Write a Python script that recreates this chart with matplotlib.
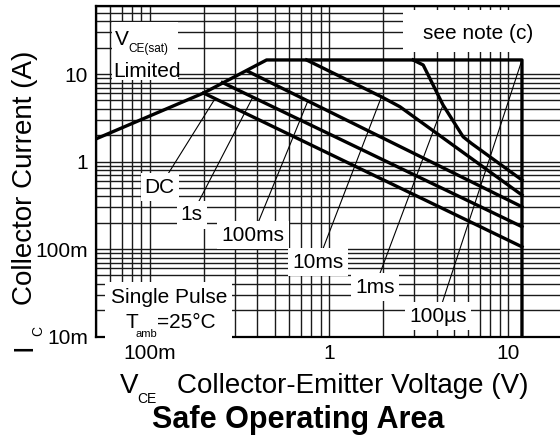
import numpy as np
import matplotlib
matplotlib.use("Agg")
import matplotlib.pyplot as plt
from matplotlib.patches import Rectangle
from matplotlib.ticker import LogLocator, NullFormatter

plt.rcParams["font.family"] = ["Liberation Sans", "DejaVu Sans"]

# curves (V, A)
soa_v = [0.05, 0.2, 0.45, 12, 12]          # 100us = whole envelope
soa_i = [1.81, 6.07, 14.5, 14.5, 0.01]
dc_v = [0.2, 12]
dc_i = [6.07, 0.106]
s1_v = [0.255, 12]
s1_i = [8.0, 0.18]
ms100_v = [0.352, 12]
ms100_i = [10.8, 0.304]
ms10_v = [0.752, 1.97, 2.5, 12]
ms10_i = [14.5, 5.5, 4.23, 0.414]
ms1_v = [2.96, 3.37, 4.35, 5.63, 6.27, 12]
ms1_i = [14.5, 12.7, 4.43, 1.92, 1.61, 0.615]

curve_names = ["DC", "1s", "100ms", "10ms", "1ms", "100\u00b5s"]
curve_v = [dc_v, s1_v, ms100_v, ms10_v, ms1_v, soa_v]
curve_i = [dc_i, s1_i, ms100_i, ms10_i, ms1_i, soa_i]
leader_v = [0.232, 0.377, 0.765, 1.97, 4.35, 12]

x_ticks = [0.1, 1, 10]
x_labels = ["100m", "1", "10"]
y_ticks = [0.01, 0.1, 1, 10]
y_labels = ["10m", "100m", "1", "10"]

# label placement (data coords)
label_pos = [(0.114, 0.51), (0.172, 0.245), (0.378, 0.1445),
             (0.87, 0.071), (1.81, 0.0368), (4.07, 0.01714)]

W, H = 560, 441


def fx(x):
    return x / W


def fy(y):
    return 1 - y / H


def on_curve(vs, cs, v):
    lv, lc = np.log10(vs), np.log10(cs)
    keep = np.r_[True, np.diff(lv) > 0]
    return 10 ** np.interp(np.log10(v), lv[keep], lc[keep])


fig = plt.figure(figsize=(W / 100, H / 100), dpi=100)
ax = fig.add_axes([fx(95.7), fy(336.5), (561.7 - 95.7) / W, (336.5 - 6) / H])
ax.set_xscale("log")
ax.set_yscale("log")
ax.set_xlim(0.05, 20)
ax.set_ylim(0.01, 60)

ax.set_xticks(x_ticks)
ax.set_xticklabels(x_labels)
ax.set_yticks(y_ticks)
ax.set_yticklabels(y_labels)
ax.xaxis.set_minor_locator(LogLocator(base=10, subs=np.arange(2, 10), numticks=50))
ax.yaxis.set_minor_locator(LogLocator(base=10, subs=np.arange(2, 10), numticks=50))
ax.xaxis.set_minor_formatter(NullFormatter())
ax.yaxis.set_minor_formatter(NullFormatter())
ax.tick_params(which="both", length=0, labelsize=15, pad=5.5)
ax.grid(True, which="both", color="#1a1a1a", lw=1.0)
ax.set_axisbelow(True)
for side in ["top", "left", "bottom"]:
    ax.spines[side].set_linewidth(1.6)
ax.spines["right"].set_visible(False)

for vs, cs in zip(curve_v, curve_i):
    ax.plot(vs, cs, color="black", lw=2.4, solid_joinstyle="round", zorder=3)

for name, vs, cs, lv, pos in zip(curve_names, curve_v, curve_i, leader_v, label_pos):
    ax.annotate(name, xy=(lv, on_curve(vs, cs, lv)), xytext=pos,
                ha="center", va="center", fontsize=15, zorder=4,
                bbox=dict(boxstyle="square,pad=0.2", fc="white", ec="none"),
                arrowprops=dict(arrowstyle="-", lw=0.8, color="black",
                                shrinkA=0, shrinkB=0))

# white note boxes
for x0, y0, x1, y1 in [(112, 22, 178, 80), (403, 10, 562, 52), (105, 282, 232, 339)]:
    fig.add_artist(Rectangle((fx(x0), fy(y1)), (x1 - x0) / W, (y1 - y0) / H,
                             transform=fig.transFigure, fc="white", ec="none", zorder=5))


def put(s, x, y, size, **kw):
    kw.setdefault("ha", "left")
    fig.text(fx(x), fy(y), s, fontsize=size, va="baseline", zorder=6, **kw)


put("V", 115, 45, 15)
put("CE(sat)", 128, 52, 8.5)
put("Limited", 113, 77, 15)
put("see note (c)", 478, 39, 15, ha="center")
put("Single Pulse", 169.5, 303, 15, ha="center")
put("T", 125, 328, 15)
put("amb", 135.5, 337, 8)
put("=25\u00b0C", 157, 328, 15)

put("V", 120, 393, 20)
put("CE", 137, 403, 10)
put("Collector-Emitter Voltage (V)", 177, 393, 20)
put("Safe Operating Area", 152, 428, 22, fontweight="bold")

put("I", 32, 351, 20, rotation=90, rotation_mode="anchor")
put("C", 42, 336, 10, rotation=90, rotation_mode="anchor")
put("Collector Current (A)", 32, 305, 20, rotation=90, rotation_mode="anchor")

fig.savefig("out.png", dpi=100)
